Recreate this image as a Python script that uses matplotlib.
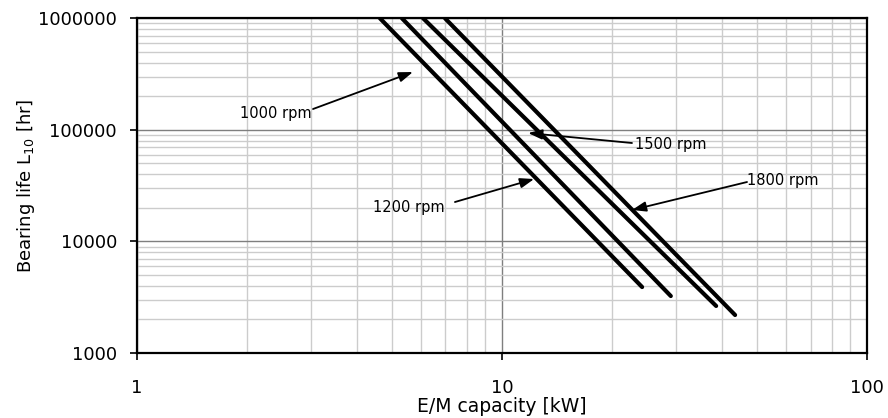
import numpy as np;
import matplotlib;
matplotlib.use("Agg");
import matplotlib.pyplot as plt;
from matplotlib.ticker import FixedLocator, NullFormatter, FuncFormatter;

# bearing life curves (x in kW, y in hr): start at top edge, end point
SPEEDS = ["1000 rpm", "1200 rpm", "1500 rpm", "1800 rpm"];
CAP_1000 = [4.63, 24.2];
LIFE_1000 = [1000000, 3900];
CAP_1200 = [5.32, 29.0];
LIFE_1200 = [1000000, 3240];
CAP_1500 = [6.08, 38.6];
LIFE_1500 = [1000000, 2640];
CAP_1800 = [6.98, 43.5];
LIFE_1800 = [1000000, 2190];

# label text position, arrow tail, arrow tip (data coords)
LABEL_POS = [(3.0, 141600), (6.94, 20350), (23.1, 74700), (46.9, 35530)];
ARROW_TAIL = [(3.035, 153800), (7.43, 22560), (22.7, 76260), (46.9, 34090)];
ARROW_TIP = [(5.70, 330000), (12.24, 36260), (11.79, 93700), (22.7, 19130)];
LABEL_HA = ["right", "right", "left", "left"];

plt.rcParams['font.family'] = ['DejaVu Sans'];

fig = plt.figure(figsize=(8.88, 4.18), dpi=100);
ax = fig.add_axes([0.1543, 0.1555, 0.8221, 0.8007]);
ax.set_xscale("log");
ax.set_yscale("log");
ax.set_xlim(1, 100);
ax.set_ylim(1000, 1000000);

#grid
ax.grid(True, which="major", color="#7f7f7f", linewidth=1.0);
ax.grid(True, which="minor", color="#cccccc", linewidth=1.0);
ax.set_axisbelow(True);

for (cx, ly) in [(CAP_1000, LIFE_1000), (CAP_1200, LIFE_1200), (CAP_1500, LIFE_1500), (CAP_1800, LIFE_1800)]:
    ax.plot(cx, ly, color="black", linewidth=3.0, solid_capstyle="round");

for i in range(len(SPEEDS)):
    ax.annotate("", xy=ARROW_TIP[i], xytext=ARROW_TAIL[i],
                arrowprops=dict(arrowstyle="-|>,head_length=0.7,head_width=0.25", color="black",
                                lw=1.3, shrinkA=0, shrinkB=0, mutation_scale=12));
    ax.text(LABEL_POS[i][0], LABEL_POS[i][1], SPEEDS[i], ha=LABEL_HA[i], va="center", fontsize=10.5);

ax.xaxis.set_major_locator(FixedLocator([1, 10, 100]));
ax.yaxis.set_major_locator(FixedLocator([1000, 10000, 100000, 1000000]));
ax.xaxis.set_major_formatter(FuncFormatter(lambda v, p: "%d" % round(v)));
ax.yaxis.set_major_formatter(FuncFormatter(lambda v, p: "%d" % round(v)));
ax.xaxis.set_minor_formatter(NullFormatter());
ax.yaxis.set_minor_formatter(NullFormatter());
ax.tick_params(which="minor", length=0);
ax.tick_params(axis="x", which="major", direction="out", length=5, width=1.2, pad=14, labelsize=13);
ax.tick_params(axis="y", which="major", direction="out", length=5, width=1.2, pad=9.5, labelsize=13);

for s in ax.spines.values():
    s.set_linewidth(1.6);
    s.set_color("black");

ax.set_xlabel("E/M capacity [kW]", fontsize=13.5, labelpad=0);
ax.set_ylabel(r"Bearing life L$_\mathregular{10}$ [hr]", fontsize=13, labelpad=1);

fig.savefig("out.png", dpi=100);
